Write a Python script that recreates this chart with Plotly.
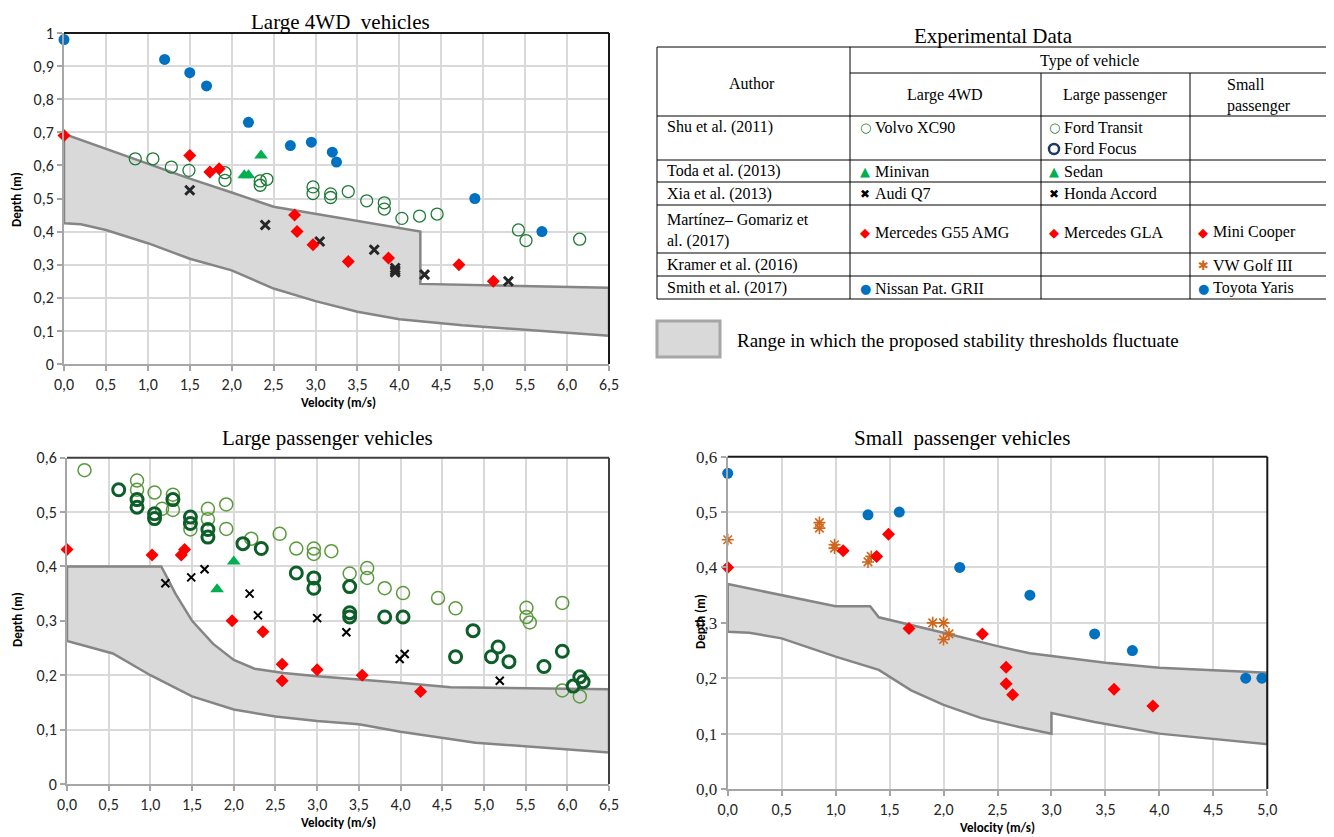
import plotly.graph_objects as go

# browser page has an 8px body margin; the figure is sized/offset for it
OFF = 8
W, H = 1334 - OFF, 837 - OFF

# ---------------- DATA ----------------
# Large 4WD vehicles
nissan_x = [0.0, 1.2, 1.5, 1.7, 2.2, 2.7, 2.95, 3.2, 3.25, 4.9, 5.7]
nissan_y = [0.98, 0.92, 0.88, 0.84, 0.73, 0.66, 0.67, 0.64, 0.61, 0.50, 0.40]
volvo_x = [0.85, 1.06, 1.28, 1.49, 1.92, 1.92, 2.34, 2.34, 2.42, 2.97, 2.97, 3.18, 3.18, 3.39,
           3.61, 3.82, 3.82, 4.03, 4.24, 4.45, 5.42, 5.51, 6.15]
volvo_y = [0.62, 0.62, 0.595, 0.585, 0.578, 0.555, 0.553, 0.54, 0.558, 0.535, 0.515, 0.514, 0.503, 0.521,
           0.493, 0.487, 0.468, 0.44, 0.447, 0.453, 0.405, 0.373, 0.377]
minivan_x = [2.15, 2.2, 2.35]
minivan_y = [0.57, 0.57, 0.63]
g55_x = [0.0, 1.5, 1.74, 1.85, 2.75, 2.78, 2.97, 3.39, 3.87, 4.71, 5.12]
g55_y = [0.69, 0.63, 0.58, 0.59, 0.45, 0.40, 0.36, 0.31, 0.32, 0.30, 0.25]
audi_x = [1.5, 2.4, 3.05, 3.7, 3.95, 3.95, 3.95, 4.3, 5.3]
audi_y = [0.525, 0.42, 0.37, 0.345, 0.29, 0.283, 0.277, 0.27, 0.25]
thr1_up_x = [0.0, 1.5, 2.0, 2.5, 4.25, 4.25, 6.5]
thr1_up_y = [0.695, 0.56, 0.518, 0.475, 0.40, 0.242, 0.23]
thr1_lo_x = [0.0, 0.2, 0.5, 1.0, 1.5, 2.0, 2.5, 3.0, 3.5, 4.0, 4.75, 6.5]
thr1_lo_y = [0.425, 0.422, 0.405, 0.365, 0.318, 0.283, 0.228, 0.19, 0.158, 0.135, 0.117, 0.085]

# Large passenger vehicles
transit_x = [0.21, 0.84, 0.84, 1.05, 1.14, 1.27, 1.27, 1.48, 1.69, 1.69, 1.91, 1.91, 2.21, 2.55,
             2.75, 2.96, 2.96, 3.17, 3.39, 3.60, 3.60, 3.81, 4.03, 4.45, 4.66, 5.51, 5.51, 5.55,
             5.94, 5.94, 6.15]
transit_y = [0.577, 0.558, 0.541, 0.536, 0.506, 0.532, 0.504, 0.468, 0.506, 0.487, 0.514, 0.469, 0.451, 0.46,
             0.433, 0.433, 0.423, 0.428, 0.387, 0.397, 0.379, 0.36, 0.351, 0.342, 0.323, 0.324, 0.307, 0.297,
             0.333, 0.172, 0.161]
focus_x = [0.62, 0.84, 0.84, 1.05, 1.05, 1.27, 1.48, 1.48, 1.69, 1.69, 2.11, 2.33, 2.75, 2.96, 2.96,
           3.39, 3.39, 3.39, 3.81, 4.03, 4.87, 4.66, 5.09, 5.17, 5.30, 5.72, 5.94, 6.07, 6.15, 6.19]
focus_y = [0.541, 0.523, 0.509, 0.497, 0.488, 0.523, 0.491, 0.479, 0.468, 0.454, 0.442, 0.433, 0.388, 0.379, 0.36,
           0.363, 0.315, 0.307, 0.307, 0.307, 0.282, 0.234, 0.234, 0.252, 0.225, 0.216, 0.244, 0.18, 0.197, 0.188]
sedan_x = [1.80, 2.0]
sedan_y = [0.358, 0.409]
gla_x = [0.0, 1.02, 1.37, 1.41, 1.98, 2.35, 2.58, 2.58, 3.0, 3.54, 4.24]
gla_y = [0.431, 0.421, 0.421, 0.431, 0.30, 0.28, 0.22, 0.19, 0.21, 0.20, 0.17]
honda_x = [1.18, 1.49, 1.65, 2.19, 2.29, 3.0, 3.35, 3.99, 4.05, 5.19]
honda_y = [0.369, 0.38, 0.395, 0.35, 0.31, 0.305, 0.279, 0.23, 0.239, 0.19]
thr2_up_x = [0.0, 1.13, 1.2, 1.3, 1.5, 1.75, 2.0, 2.25, 2.6, 3.0, 4.0, 4.6, 6.5]
thr2_up_y = [0.40, 0.40, 0.38, 0.35, 0.30, 0.258, 0.228, 0.212, 0.204, 0.198, 0.186, 0.178, 0.174]
thr2_lo_x = [0.0, 0.55, 1.0, 1.5, 2.0, 2.5, 3.0, 3.5, 4.0, 4.9, 6.5]
thr2_lo_y = [0.263, 0.24, 0.2, 0.161, 0.137, 0.124, 0.116, 0.11, 0.096, 0.076, 0.058]

# Small passenger vehicles
yaris_x = [0.0, 1.30, 1.59, 2.15, 2.80, 3.40, 3.75, 4.80, 4.95]
yaris_y = [0.57, 0.495, 0.50, 0.40, 0.35, 0.28, 0.25, 0.20, 0.20]
mini_x = [0.0, 1.07, 1.38, 1.49, 1.68, 2.36, 2.58, 2.58, 2.64, 3.58, 3.94]
mini_y = [0.40, 0.43, 0.42, 0.46, 0.29, 0.28, 0.22, 0.19, 0.17, 0.18, 0.15]
golf_x = [0.0, 0.85, 0.85, 0.99, 0.99, 1.30, 1.33, 1.90, 2.0, 2.0, 2.05]
golf_y = [0.45, 0.481, 0.471, 0.441, 0.435, 0.41, 0.42, 0.30, 0.30, 0.27, 0.28]
thr3_up_x = [0.0, 1.0, 1.32, 1.4, 2.0, 2.5, 2.8, 3.5, 4.0, 5.0]
thr3_up_y = [0.37, 0.33, 0.33, 0.31, 0.282, 0.258, 0.245, 0.228, 0.219, 0.21]
thr3_lo_x = [0.0, 0.2, 0.5, 1.0, 1.4, 1.7, 2.0, 2.35, 2.7, 3.0, 3.0, 3.4, 4.0, 5.0]
thr3_lo_y = [0.284, 0.282, 0.272, 0.239, 0.215, 0.178, 0.152, 0.128, 0.112, 0.10, 0.137, 0.121, 0.10, 0.081]

# Table text
authors = ["Shu et al. (2011)", "Toda et al. (2013)", "Xia et al. (2013)",
           "Martínez– Gomariz et<br>al. (2017)", "Kramer et al. (2016)", "Smith et al. (2017)"]

# ---------------- STYLE ----------------
BLUE = "#0070c0"
RED = "#ff0000"
GREEN_TRI = "#00b050"
VOLVO = "#1e7a36"
TRANSIT = "#5b9a3c"
FOCUS = "#0e5e2a"
ORANGE = "#d0661c"
GRID = "#d9d9d9"
SANS = "Carlito, Lato, 'Open Sans', sans-serif"
SERIF = "'Liberation Serif', 'Times New Roman', serif"


def fx(p):
    return (p - OFF) / W


def fy(p):
    return 1 - (p - OFF) / H


fig = go.Figure()


def poly(ux, uy, lx, ly, xa, ya):
    xs = list(ux) + list(lx)[::-1] + [ux[0]]
    ys = list(uy) + list(ly)[::-1] + [uy[0]]
    fig.add_trace(go.Scatter(x=xs, y=ys, mode="lines", fill="toself", fillcolor="#d9d9d9",
                             line=dict(color="#858585", width=2.5), xaxis=xa, yaxis=ya,
                             hoverinfo="skip"))


def pts(x, y, xa, ya, **marker):
    fig.add_trace(go.Scatter(x=x, y=y, mode="markers", marker=marker, xaxis=xa, yaxis=ya,
                             cliponaxis=False))


# Panel 1
poly(thr1_up_x, thr1_up_y, thr1_lo_x, thr1_lo_y, "x", "y")
pts(volvo_x, volvo_y, "x", "y", symbol="circle-open", size=12, color=VOLVO, line=dict(width=1.3))
pts(audi_x, audi_y, "x", "y", symbol="x-thin", size=9, line=dict(width=3, color="#262626"))
pts(g55_x, g55_y, "x", "y", symbol="diamond", size=10, color=RED)
pts(minivan_x, minivan_y, "x", "y", symbol="triangle-up", size=12, color=GREEN_TRI)
pts(nissan_x, nissan_y, "x", "y", symbol="circle", size=11, color=BLUE)

# Panel 2
poly(thr2_up_x, thr2_up_y, thr2_lo_x, thr2_lo_y, "x2", "y2")
pts(transit_x, transit_y, "x2", "y2", symbol="circle-open", size=13, color=TRANSIT, line=dict(width=1.5))
pts(focus_x, focus_y, "x2", "y2", symbol="circle-open", size=12, color=FOCUS, line=dict(width=3))
pts(honda_x, honda_y, "x2", "y2", symbol="x-thin", size=8, line=dict(width=2, color="#000000"))
pts(gla_x, gla_y, "x2", "y2", symbol="diamond", size=10, color=RED)
pts(sedan_x, sedan_y, "x2", "y2", symbol="triangle-up", size=12, color=GREEN_TRI)

# Panel 3
poly(thr3_up_x, thr3_up_y, thr3_lo_x, thr3_lo_y, "x3", "y3")
pts(golf_x, golf_y, "x3", "y3", symbol="asterisk", size=10, line=dict(width=1.6, color=ORANGE))
pts(mini_x, mini_y, "x3", "y3", symbol="diamond", size=10, color=RED)
pts(yaris_x, yaris_y, "x3", "y3", symbol="circle", size=11, color=BLUE)


def xax(d0, d1, rng, anchor):
    return dict(domain=[fx(d0), fx(d1)], range=rng, dtick=0.5, tick0=0, tickformat=".1f",
                showgrid=True, gridcolor=GRID, gridwidth=1.5, zeroline=False,
                showline=True, linecolor="#a6a6a6", linewidth=2, ticks="outside", ticklen=5,
                tickcolor="#a6a6a6", tickwidth=1.5, anchor=anchor,
                tickfont=dict(family=SANS, size=16, color="#262626"))


def yax(d0, d1, rng, anchor, fmt="", font=SANS, size=16):
    return dict(domain=[fy(d1), fy(d0)], range=rng, dtick=0.1, tick0=0, tickformat=fmt,
                showgrid=True, gridcolor=GRID, gridwidth=1.5, zeroline=False,
                showline=True, linecolor="#a6a6a6", linewidth=2, ticks="outside", ticklen=5,
                tickcolor="#a6a6a6", tickwidth=1.5, anchor=anchor,
                tickfont=dict(family=font, size=size, color="#262626"))


fig.update_layout(
    width=W, height=H, margin=dict(l=0, r=0, t=0, b=0, autoexpand=False),
    paper_bgcolor="white", plot_bgcolor="white", showlegend=False,
    separators=",.",
    xaxis=xax(64, 609, [0, 6.5], "y"),
    yaxis=yax(33, 364, [0, 1], "x"),
    xaxis2=xax(67, 609, [0, 6.5], "y2"),
    yaxis2=yax(457.7, 784, [0, 0.6], "x2"),
    xaxis3=xax(727.7, 1267.3, [0, 5], "y3"),
    yaxis3=yax(456.7, 789, [0, 0.6], "x3", fmt=".1f", font=SERIF, size=17),
)

shapes = []
for xa, ya, col in [("x", "y", "#1a1a1a"), ("x2", "y2", "#404040"), ("x3", "y3", "#1a1a1a")]:
    shapes.append(dict(type="line", xref=f"{xa} domain", yref=f"{ya} domain", x0=0, x1=1, y0=1, y1=1,
                       line=dict(color=col, width=2)))
    shapes.append(dict(type="line", xref=f"{xa} domain", yref=f"{ya} domain", x0=1, x1=1, y0=0, y1=1,
                       line=dict(color=col, width=2)))

# table lines
TL = dict(color="#000000", width=1)


def hline(x0, x1, y):
    shapes.append(dict(type="line", xref="paper", yref="paper", x0=fx(x0), x1=fx(x1), y0=fy(y), y1=fy(y), line=TL))


def vline(x, y0, y1):
    shapes.append(dict(type="line", xref="paper", yref="paper", x0=fx(x), x1=fx(x), y0=fy(y0), y1=fy(y1), line=TL))


T_L, T_R, T_T, T_B = 657, 1328, 47, 299
C1, C2, C3 = 850, 1041, 1190
row_lines = [116, 160, 182, 205, 253, 276]
hline(T_L, T_R, T_T)
hline(T_L, T_R, T_B)
vline(T_L, T_T, T_B)
vline(T_R, T_T, T_B)
vline(C1, T_T, T_B)
hline(C1, T_R, 73)
vline(C2, 73, T_B)
vline(C3, 73, T_B)
for r in row_lines:
    hline(T_L, T_R, r)

# legend box for range
shapes.append(dict(type="rect", xref="paper", yref="paper", x0=fx(657), x1=fx(720), y0=fy(357), y1=fy(321),
                   fillcolor="#d9d9d9", line=dict(color="#a6a6a6", width=3)))
# thick ring symbol for Ford Focus in the table
shapes.append(dict(type="circle", xref="paper", yref="paper", x0=fx(1049), x1=fx(1059), y0=fy(154), y1=fy(144),
                   line=dict(color="#1f3864", width=2.5)))

fig.update_layout(shapes=shapes)

ann = []


def text(x, y, s, size=16, font=SERIF, xanchor="center", color="#000000", textangle=0, yanchor="middle"):
    ann.append(dict(x=fx(x), y=fy(y), xref="paper", yref="paper", text=s, showarrow=False,
                    xanchor=xanchor, yanchor=yanchor, textangle=textangle, align="left",
                    font=dict(family=font, size=size, color=color)))


# titles
text(340, 8, "Large 4WD  vehicles", size=21, yanchor="top")
text(327, 438, "Large passenger vehicles", size=21)
text(962, 438, "Small  passenger vehicles", size=21)
text(993, 36, "Experimental Data", size=21)

# axis titles
text(338, 402, "<b>Velocity (m/s)</b>", size=13, font=SANS)
text(338, 822, "<b>Velocity (m/s)</b>", size=13, font=SANS)
text(997, 827, "<b>Velocity (m/s)</b>", size=13, font=SANS)
text(17, 200, "<b>Depth (m)</b>", size=13, font=SANS, textangle=-90)
text(17, 620, "<b>Depth (m)</b>", size=13, font=SANS, textangle=-90)
text(700, 622, "<b>Depth (m)</b>", size=13, font=SANS, textangle=-90)

# table header
text(752, 84, "Author")
text(1089, 61, "Type of vehicle")
text(945, 95, "Large 4WD")
text(1115, 95, "Large passenger")
text(1259, 95, "Small<br>passenger")

row_y = [127, 171, 194, 231, 265, 288]
for a, y in zip(authors, row_y):
    text(665, y, a, xanchor="left")

SYM = "DejaVu Sans"


def entry(x, y, sym, col, label, ssize=13):
    if sym:
        text(x, y, sym, size=ssize, font=SYM, xanchor="left", color=col)
    text(x + 15, y, label, xanchor="left")


entry(858, 127, "○", VOLVO, "Volvo XC90")
entry(1047, 127, "○", VOLVO, "Ford Transit")
entry(1047, 149, "", "#1f3864", "Ford Focus")
entry(858, 171, "▲", GREEN_TRI, "Minivan")
entry(1047, 171, "▲", GREEN_TRI, "Sedan")
entry(858, 194, "✖", "#000000", "Audi Q7", ssize=12)
entry(1047, 194, "✖", "#000000", "Honda Accord", ssize=12)
entry(858, 232, "◆", RED, "Mercedes G55 AMG")
entry(1047, 232, "◆", RED, "Mercedes GLA")
entry(1196, 232, "◆", RED, "Mini Cooper")
entry(1196, 265, "✱", ORANGE, "VW Golf III")
entry(858, 288, "●", BLUE, "Nissan Pat. GRII")
entry(1196, 288, "●", BLUE, "Toyota Yaris")

text(735, 341, "Range in which the proposed stability thresholds fluctuate", size=19, xanchor="left")

fig.update_layout(annotations=ann)
fig.write_html("out.html")
